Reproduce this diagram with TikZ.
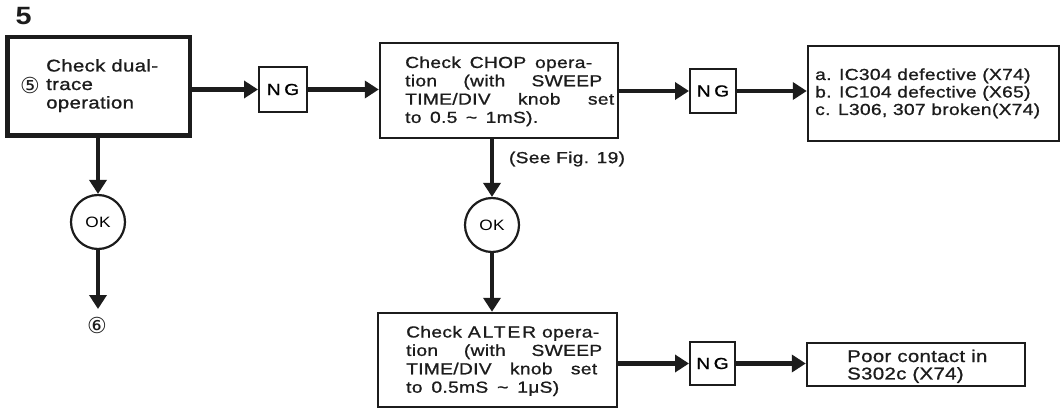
\documentclass[tikz,border=0pt]{standalone}
\usepackage{fontspec}
\setmainfont{Liberation Sans}[FakeStretch=1.2, LetterSpace=2, FakeBold=1]
\newfontfamily\wf{Liberation Sans}[FakeStretch=1.2, LetterSpace=2, FakeBold=1]
\newfontfamily\lf{Liberation Sans}[FakeStretch=1.15, LetterSpace=2]
\newfontfamily\circfont{DejaVu Sans}
\usetikzlibrary{arrows.meta}
\definecolor{ink}{HTML}{1C1C1C}
% a block of left-aligned lines whose first baseline is the node's base
\newcommand\rows[3][16]{{\wf\fontsize{#1}{#2}\selectfont\begin{tabular}[t]{@{}l@{}}#3\end{tabular}}}
\newcommand\ws[2]{\makebox[#1pt][s]{#2}}
\tikzset{
  box/.style={draw=ink, line width=2.4pt, rectangle, inner sep=0pt},
  heavybox/.style={box, line width=4.5pt},
  ngbox/.style={box, line width=2pt, font=\wf\fontsize{16}{20}\selectfont\addfontfeature{LetterSpace=22}},
  okcirc/.style={draw=ink, line width=2.2pt, circle, minimum size=54pt, inner sep=0pt,
    font=\lf\fontsize{15}{20}\selectfont},
  txt/.style={anchor=base west, inner sep=0pt, text=ink},
  circnum/.style={anchor=center, inner sep=0pt, text=ink, font=\circfont\fontsize{22}{26}\selectfont},
  flow/.style={draw=ink, line width=4.5pt, -{Triangle[length=14pt,width=17pt]}},
}
\begin{document}
\begin{tikzpicture}[x=1pt,y=-1pt]
\useasboundingbox[fill=white] (0,0) rectangle (1062,414);

% section number
\node[txt, anchor=center, font=\lf\fontsize{25}{26}\selectfont\bfseries] (num) at (23.5,16) {5};

% first row
\node[heavybox, minimum width=182.5pt, minimum height=98.5pt] (b1) at (98.5,86.5) {};
\node[circnum] (c5) at (30,85) {⑤};
\node[txt] (t1) at (46,71.5) {\rows[17]{18.5}{Check dual-\\trace\\operation}};

\node[ngbox, minimum width=48pt, minimum height=45pt] (ng1) at (283,89.5) {NG};

\node[box, minimum width=238pt, minimum height=95pt] (b2) at (499,90.5) {};
\node[txt] (t2) at (405,68) {\rows{18.3}{\ws{187}{Check CHOP opera-}\\\ws{197}{tion (with SWEEP}\\\ws{209}{TIME/DIV knob set}\\\ws{133}{to 0.5 \textasciitilde\ 1mS).}}};

\node[ngbox, minimum width=46pt, minimum height=44pt] (ng2) at (713,91) {NG};

\node[box, minimum width=251pt, minimum height=95pt] (b3) at (933.5,93.5) {};
\node[txt] (t3) at (815,80) {\rows{17.5}{a. IC304 defective (X74)\\b. IC104 defective (X65)\\c. L306, 307 broken(X74)}};

% left branch
\node[okcirc] (ok1) at (98,222) {OK};
\coordinate (end6) at (98,309);
\node[circnum] (c6) at (97,325) {⑥};

% middle branch
\node[txt, anchor=center, font=\wf\fontsize{16}{20}\selectfont] (see) at (567,159) {(See Fig. 19)};
\node[okcirc] (ok2) at (492,225) {OK};

% bottom row
\node[box, minimum width=239pt, minimum height=94pt] (b4) at (497.5,360) {};
\node[txt] (t4) at (406,337.5) {\rows{18.4}{\ws{193}{Check {\addfontfeature{LetterSpace=12}ALTER} opera-}\\\ws{196}{tion (with SWEEP}\\\ws{191}{TIME/DIV knob set}\\\ws{153}{to 0.5mS \textasciitilde\ 1μS)}}};

\node[ngbox, minimum width=45pt, minimum height=43pt] (ng3) at (712.5,363.5) {NG};

\node[box, minimum width=218pt, minimum height=43pt] (b5) at (916,364.5) {};
\node[txt] (t5) at (847,362) {\rows[17]{17}{Poor contact in\\S302c (X74)}};

% connectors
\draw[flow] (b1.east |- ng1.west) -- (ng1.west);
\draw[flow] (ng1.east) -- (b2.west |- ng1.east);
\draw[flow] (b2.east |- ng2.west) -- (ng2.west);
\draw[flow] (ng2.east) -- (b3.west |- ng2.east);
\draw[flow] (b1.south -| ok1.north) -- (ok1.north);
\draw[flow] (ok1.south) -- (end6);
\draw[flow] (b2.south -| ok2.north) -- (ok2.north);
\draw[flow] (ok2.south) -- (b4.north -| ok2.south);
\draw[flow] (b4.east |- ng3.west) -- (ng3.west);
\draw[flow] (ng3.east) -- (b5.west |- ng3.east);
\end{tikzpicture}
\end{document}
